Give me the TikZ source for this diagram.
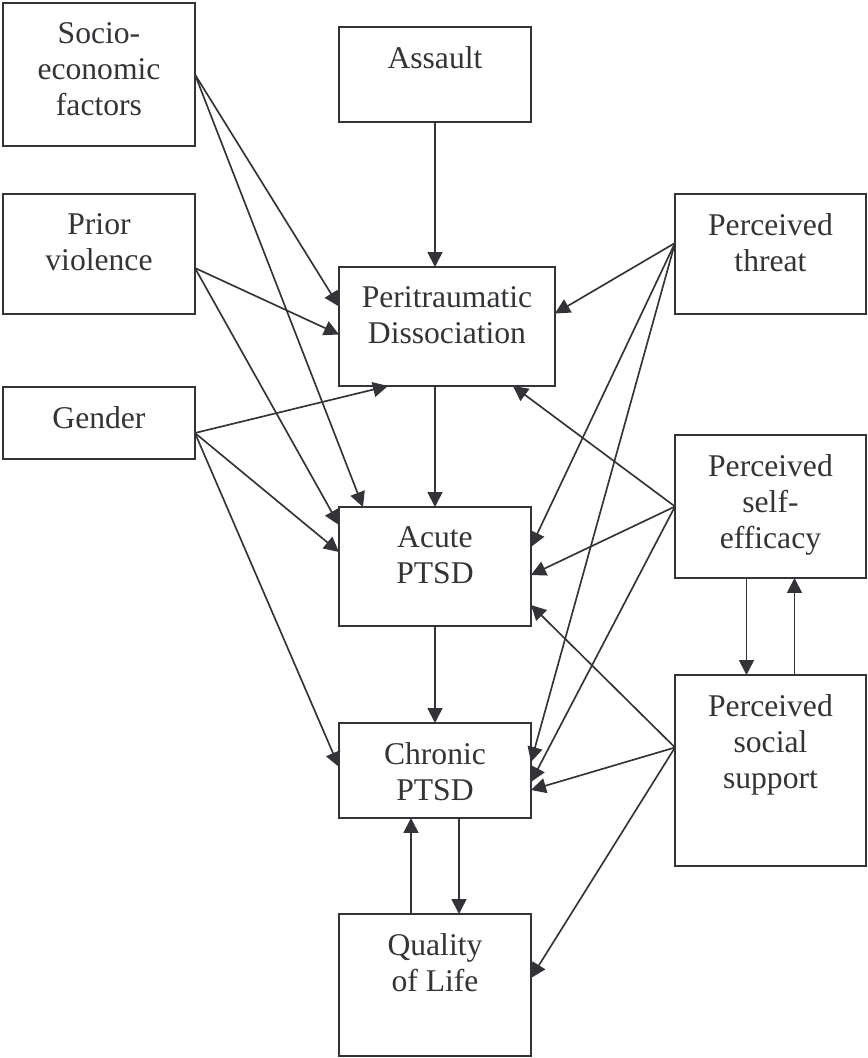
\documentclass[tikz,border=0pt]{standalone}
\usepackage{fontspec}
\setmainfont{Liberation Serif}
\usetikzlibrary{arrows.meta}
\definecolor{ink}{RGB}{52,52,56}
\begin{document}
\begin{tikzpicture}[x=0.02cm, y=-0.02cm, color=ink, line width=0.95pt,
        >={Triangle[length=0.3cm, width=0.3cm]},
        main/.style = {draw, anchor=north west, minimum width=3.84cm, inner sep=0pt, outer sep=0pt},
        txt/.style = {anchor=north, yshift=-0.368cm, inner sep=0pt, align=center, font=\fontsize{18}{20.7}\selectfont}]
    \useasboundingbox (0,0) rectangle (867,1058);

    \node[main, minimum height=2.86cm, label={[txt]north:Socio-\\economic\\factors}] (1) at (3,3) {};
    \node[main, minimum height=1.90cm, label={[txt]north:Assault}] (2) at (339,27) {};
    \node[main, minimum height=2.40cm, label={[txt]north:Prior\\violence}] (3) at (3,194) {};
    \node[main, minimum height=2.40cm, minimum width=3.82cm, label={[txt]north:Perceived\\threat}] (4) at (675,194) {};
    \node[main, minimum height=2.38cm, minimum width=4.32cm, label={[txt]north:Peritraumatic\\Dissociation}] (5) at (339,267) {};
    \node[main, minimum height=1.44cm, label={[txt]north:Gender}] (6) at (3,387) {};
    \node[main, minimum height=2.86cm, minimum width=3.82cm, label={[txt]north:Perceived\\self-\\efficacy}] (7) at (675,435) {};
    \node[main, minimum height=2.38cm, label={[txt]north:Acute\\PTSD}] (8) at (339,507) {};
    \node[main, minimum height=3.82cm, minimum width=3.82cm, label={[txt]north:Perceived\\social\\support}] (9) at (675,675) {};
    \node[main, minimum height=1.90cm, label={[txt]north:Chronic\\PTSD}] (10) at (339,723) {};
    \node[main, minimum height=2.84cm, label={[txt]north:Quality\\of Life}] (11) at (339,914) {};

    \draw[->] (2.south) to (2.south |- 5.north);
    \draw[->] (8.north |- 5.south) to (8.north);
    \draw[->] (8) to (10);
    \draw[->] ([shift={(24,0)}]10.south) to ([shift={(24,0)}]11.north);
    \draw[->] ([shift={(-24,0)}]11.north) to ([shift={(-24,0)}]10.south);
    \draw[->] ([shift={(-24,0)}]7.south) to ([shift={(-24,0)}]9.north);
    \draw[->] ([shift={(24,0)}]9.north) to ([shift={(24,0)}]7.south);

    \draw[->] (1.east) to ([shift={(0,-20)}]5.west);
    \draw[->] (1.east) to ([shift={(24,0)}]8.north west);
    \draw[->] ([shift={(0,14)}]3.east) to ([shift={(0,8)}]5.west);
    \draw[->] ([shift={(0,14)}]3.east) to ([shift={(0,18)}]8.north west);
    \draw[->] ([shift={(0,10)}]6.east) to ([shift={(49,0)}]5.south west);
    \draw[->] ([shift={(0,10)}]6.east) to ([shift={(0,45)}]8.north west);
    \draw[->] ([shift={(0,10)}]6.east) to ([shift={(0,44)}]10.north west);

    \draw[->] ([shift={(0,-11)}]4.west) to ([shift={(0,-13)}]5.east);
    \draw[->] ([shift={(0,-11)}]4.west) to ([shift={(0,40)}]8.north east);
    \draw[->] ([shift={(0,-11)}]4.west) to ([shift={(0,39)}]10.north east);
    \draw[->] (7.west) to ([shift={(-42,0)}]5.south east);
    \draw[->] (7.west) to ([shift={(0,68)}]8.north east);
    \draw[->] (7.west) to ([shift={(0,59)}]10.north east);
    \draw[->] ([shift={(0,-23)}]9.west) to ([shift={(0,98)}]8.north east);
    \draw[->] ([shift={(0,-23)}]9.west) to ([shift={(0,67)}]10.north east);
    \draw[->] ([shift={(0,-23)}]9.west) to ([shift={(0,64)}]11.north east);
\end{tikzpicture}
\end{document}
